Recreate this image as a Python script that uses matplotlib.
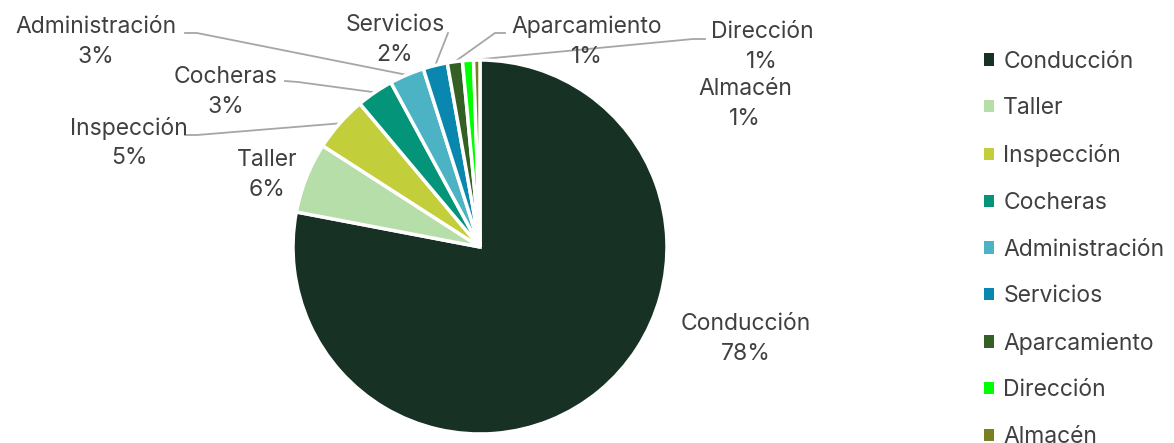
import numpy as np
import matplotlib.pyplot as plt
from matplotlib.patches import Patch

# datos (porcentaje de tiempo por área)
categorias = ['Conducción', 'Taller', 'Inspección', 'Cocheras', 'Administración',
              'Servicios', 'Aparcamiento', 'Dirección', 'Almacén']
valores = [78.0, 6.1, 4.8, 3.2, 3.0, 2.1, 1.3, 0.95, 0.55]
etiquetas_pct = ['78%', '6%', '5%', '3%', '3%', '2%', '1%', '1%', '1%']

colores = ['#173124', '#b5dea8', '#c3cf3a', '#03947a', '#4bb3c3',
           '#0a87ae', '#345f25', '#00ff00', '#7a7f24']

W, H = 1174, 443
fig = plt.figure(figsize=(W / 100, H / 100), dpi=100)
ax = fig.add_axes([0, 0, 1, 1])

cx, cy, r = 480, H - 247, 187
wedges, _ = ax.pie(valores, colors=colores, startangle=90, counterclock=False,
                   center=(cx, cy), radius=r, frame=True,
                   wedgeprops=dict(edgecolor='white', linewidth=2.5))
ax.set_xlim(0, W)
ax.set_ylim(0, H)
ax.set_aspect('equal')
ax.axis('off')

# posicion de cada etiqueta (en pixeles de la imagen, y hacia abajo)
pos_etiq = [(746, 339), (267, 175), (129, 143), (226, 92), (96, 42),
            (395, 40), (587, 42), (762, 47), (745, 104)]
# inicio de linea guia (None = sin linea)
guia = [None, None, (197, 135), (298, 82), (197, 33),
        (448, 33), (495, 33), (693, 39), None]
codo = [None, None, (185, 135), (285, 81), (185, 33),
        None, (505, 33), (705, 39), None]

txt_color = '#404040'
fuente = 'Inter'
for i, w in enumerate(wedges):
    x, y = pos_etiq[i]
    ax.text(x, H - y, categorias[i] + '\n' + etiquetas_pct[i], ha='center', va='center',
            fontsize=16.5, color=txt_color, family=fuente, linespacing=1.45)
    if guia[i] is not None:
        mid = np.deg2rad((w.theta1 + w.theta2) / 2)
        ex, ey = cx + r * np.cos(mid), cy + r * np.sin(mid)
        xs = [guia[i][0], ex]
        ys = [H - guia[i][1], ey]
        if codo[i] is not None:
            xs.insert(0, codo[i][0])
            ys.insert(0, H - codo[i][1])
        ax.plot(xs, ys, color='#a6a6a6', lw=1.3, zorder=0.5)

handles = [Patch(facecolor=c, edgecolor='none') for c in colores]
fig.legend(handles, categorias, loc='upper left', bbox_to_anchor=(963 / W, 1 - 30 / H),
           frameon=False, prop={'family': fuente, 'size': 16.5}, labelcolor=txt_color,
           handlelength=0.44, handleheight=0.44, handletextpad=0.42, labelspacing=1.08)

fig.savefig('out.png', dpi=100)
